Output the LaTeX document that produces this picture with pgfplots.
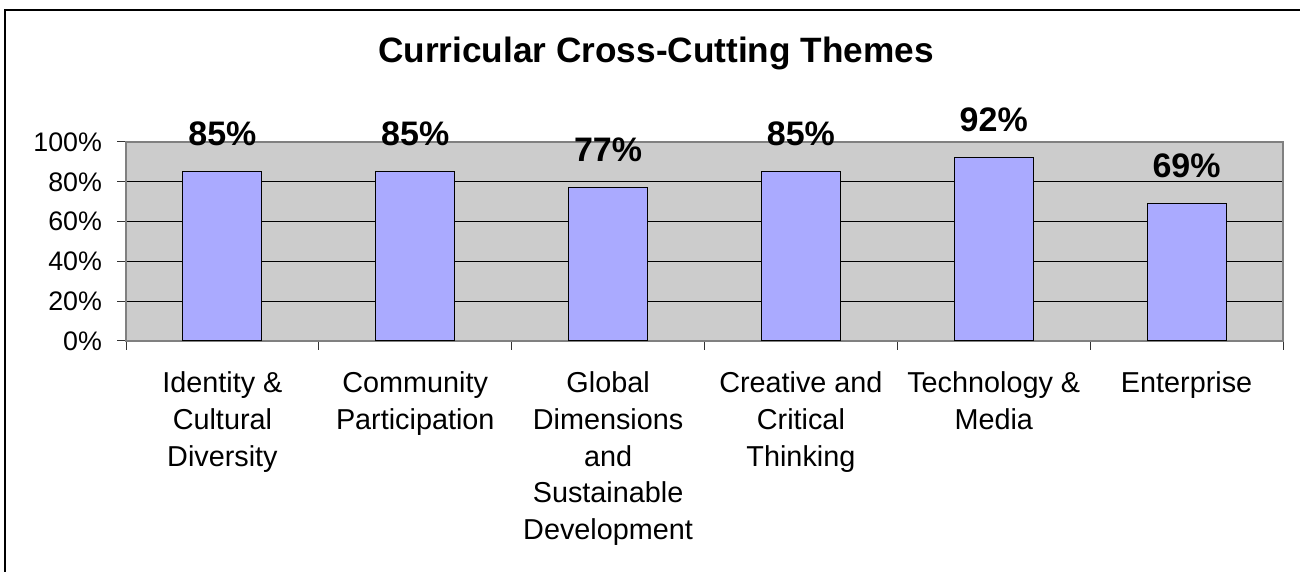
\documentclass[border=0pt]{standalone}
\usepackage{pgfplots}
\pgfplotsset{compat=1.18}
\usepackage{fontspec}
\setmainfont{Liberation Sans}

\definecolor{barfill}{RGB}{170,170,255}
\definecolor{plotbg}{RGB}{204,204,204}
\definecolor{framegray}{RGB}{128,128,128}

\begin{document}
\begin{tikzpicture}[x=1pt,y=1pt]
  \useasboundingbox (0,0) rectangle (650,286);
  \draw[black, line width=0.8pt] (2.5,0) -- (2.5,281) -- (650,281);
  \node[anchor=base, font=\fontsize{17.6}{20}\selectfont\bfseries] at (328,254.5)
    {Curricular Cross-Cutting Themes};
  \begin{axis}[
    at={(63pt,115.5pt)}, anchor=south west,
    scale only axis, width=578.5pt, height=99.5pt,
    xmin=-0.5, xmax=5.5, ymin=0, ymax=100,
    axis background/.style={fill=plotbg},
    ybar, bar width=39.5pt,
    xtick={0,...,5},
    xticklabels={{Identity \&\\Cultural\\Diversity},
                 {Community\\Participation},
                 {Global\\Dimensions\\and\\Sustainable\\Development},
                 {Creative and\\Critical\\Thinking},
                 {Technology \&\\Media},
                 {Enterprise}},
    xticklabel style={align=center, font=\fontsize{14.4}{18.3}\selectfont, yshift=-7.5pt},
    major x tick style={draw=none},
    minor xtick={-0.5,0.5,...,5.5},
    ytick={0,20,...,100},
    yticklabels={0\%,20\%,40\%,60\%,80\%,100\%},
    yticklabel style={font=\fontsize{13.4}{15}\selectfont, xshift=-4pt},
    ymajorgrids, grid style={black, line width=0.5pt},
    tick align=outside, tick pos=left,
    major tick length=4.5pt, minor tick length=4.5pt,
    axis line style={framegray, line width=0.6pt},
    tick style={black!80, line width=0.5pt},
    nodes near coords={\pgfmathprintnumber[assume math mode=true]{\pgfplotspointmeta}\%},
    nodes near coords style={anchor=base, yshift=13pt, font=\fontsize{17}{19}\selectfont\bfseries},
  ]
    \addplot[fill=barfill, draw=black, line width=0.5pt] coordinates {
      (0,85) (1,85) (2,77) (3,85) (4,92) (5,69)
    };
  \end{axis}
\end{tikzpicture}
\end{document}
